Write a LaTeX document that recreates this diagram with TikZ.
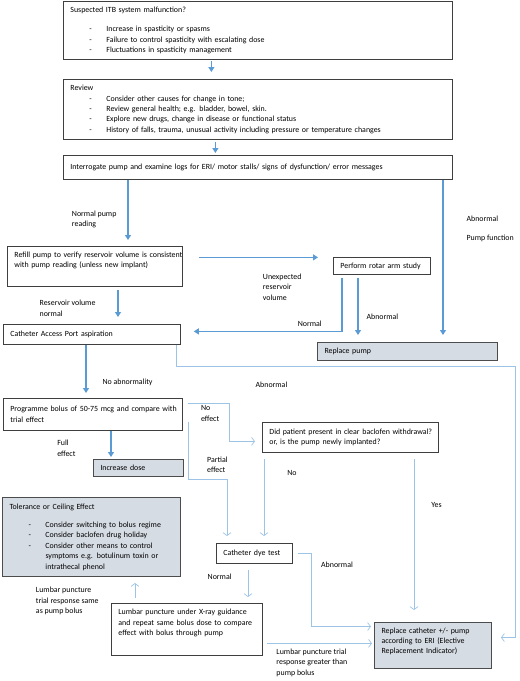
\documentclass[tikz,border=0pt]{standalone}
\usepackage{fontspec}
\setmainfont{Carlito}
\usepackage{tikz}
\usetikzlibrary{arrows.meta,positioning}
\usepackage{xcolor}
\definecolor{arrowblue}{HTML}{5B9BD5}
\definecolor{paleblue}{HTML}{9DC3E6}
\definecolor{boxgrey}{HTML}{D6DCE4}
\definecolor{edgegrey}{HTML}{3F3F3F}
\newcommand{\dashitem}{\hspace*{19pt}\makebox[17pt][l]{-}}
\newcommand{\dashcont}{\hspace*{36pt}}

\begin{document}
\begin{tikzpicture}[
  x=1pt, y=-1pt,
  font=\fontsize{7.9}{10.4}\selectfont,
  line/.style={-{Triangle[length=5pt,width=6pt]},line width=1.1pt,draw=arrowblue},
  faint/.style={-{Straight Barb[length=3pt,width=8pt]},line width=0.7pt,draw=paleblue},
  box/.style={draw=edgegrey,line width=0.8pt,anchor=north west,align=left,
              inner xsep=7pt,inner ysep=3pt},
  shaded/.style={box,fill=boxgrey,draw=black!70,line width=1pt},
  lbl/.style={align=left,inner sep=0pt}
]
\useasboundingbox (0,0) rectangle (520,681);

\node[box,minimum width=389pt,text width=375pt,minimum height=58pt] (suspect) at (63,1)
  {Suspected ITB system malfunction?\\[8.7pt]
   \dashitem Increase in spasticity or spasms\\
   \dashitem Failure to control spasticity with escalating dose\\
   \dashitem Fluctuations in spasticity management};
\node[box,minimum width=389pt,text width=375pt,minimum height=60pt] (review) at (63,79)
  {Review\\
   \dashitem Consider other causes for change in tone;\\
   \dashitem Review general health; e.g. bladder, bowel, skin.\\
   \dashitem Explore new drugs, change in disease or functional status\\
   \dashitem History of falls, trauma, unusual activity including pressure or temperature changes};
\node[box,minimum width=389pt,text width=375pt,minimum height=24pt] (interrog) at (63,155)
  {Interrogate pump and examine logs for ERI/ motor stalls/ signs of dysfunction/ error messages};
\node[box,minimum width=175pt,text width=161pt,text height=8pt,text depth=26pt] (refill) at (7,246)
  {\mbox{Refill pump to verify reservoir volume is consistent}\\with pump reading (unless new implant)};
\node[box,minimum width=97pt,text width=83pt,minimum height=17pt] (rotar) at (333,257)
  {Perform rotar arm study};
\node[shaded,minimum width=180pt,text width=166pt,minimum height=18pt] (pumprep) at (317,342)
  {Replace pump};
\node[box,minimum width=177pt,text width=163pt,minimum height=20pt] (cap) at (3,324)
  {Catheter Access Port aspiration};
\node[box,minimum width=179pt,text width=165pt,minimum height=32pt] (bolus) at (3,398)
  {\mbox{Programme bolus of 50-75 mcg and compare with}\\trial effect};
\node[shaded,minimum width=90pt,text width=76pt,minimum height=17pt] (incr) at (93,459)
  {Increase dose};
\node[box,minimum width=176pt,text width=162pt,minimum height=30pt] (wd) at (262,422)
  {\mbox{Did patient present in clear baclofen withdrawal?}\\or, is the pump newly implanted?};
\node[shaded,minimum width=178pt,text width=164pt,minimum height=79pt] (tol) at (2,497)
  {Tolerance or Ceiling Effect\\[8pt]
   \dashitem Consider switching to bolus regime\\
   \dashitem Consider baclofen drug holiday\\
   \dashitem Consider other means to control\\
   \dashcont symptoms e.g. botulinum toxin or\\
   \dashcont intrathecal phenol};
\node[box,minimum width=76pt,text width=62pt,minimum height=20pt] (dye) at (216,543)
  {Catheter dye test};
\node[box,minimum width=151pt,text width=137pt,text height=8.5pt,text depth=37.5pt] (lp) at (111,603)
  {\mbox{Lumbar puncture under X-ray guidance}\\\mbox{and repeat same bolus dose to compare}\\effect with bolus through pump};
\node[shaded,minimum width=117pt,text width=103pt,text height=7.5pt,text depth=32.5pt] (cathrep) at (374,622)
  {Replace catheter +/- pump\\according to ERI (Elective\\Replacement Indicator)};

% main spine
\draw[line,shorten <=1pt,shorten >=7pt] ([xshift=-46.5pt]suspect.south) -- ([xshift=-46.5pt]review.north);
\draw[line,shorten <=2pt,shorten >=2pt] ([xshift=-42.5pt]review.south) -- ([xshift=-42.5pt]interrog.north);
\draw[line,shorten >=6pt] ([xshift=65pt]interrog.south west)
  -- node[lbl,pos=0.6,left=11pt]{Normal pump\\reading} ([xshift=121pt]refill.north west);
\draw[line,shorten >=7pt] ([xshift=380pt]interrog.south west)
  -- node[lbl,pos=0.3,right=23pt]{Abnormal\\[8.5pt]Pump function} ([xshift=126pt]pumprep.north west);
\draw[line,shorten <=3pt,shorten >=7pt] ([xshift=111pt]refill.south west)
  -- node[lbl,pos=0.58,left=22pt]{Reservoir volume\\normal} ([xshift=115pt]cap.north west);
\draw[line,shorten <=16pt,shorten >=15pt] ([yshift=9pt]refill.east)
  -- node[lbl,pos=0.53,anchor=north west,yshift=-16pt]{Unexpected\\reservoir\\volume}
  ([yshift=9pt]refill.east -| rotar.west);
\draw[line,shorten <=3pt,shorten >=13pt] ([xshift=9pt]rotar.south west)
  |- node[lbl,pos=0.6,above=4pt]{Normal} ([yshift=3pt]cap.east);
\draw[line,shorten <=3pt,shorten >=7pt] ([xshift=25pt]rotar.south west)
  -- node[lbl,pos=0.63,right=8pt]{Abnormal} ([xshift=41pt]pumprep.north west);
\draw[line,shorten >=5pt] ([xshift=83pt]cap.south west)
  -- node[lbl,pos=0.7,right=16pt]{No abnormality} ([xshift=83pt]bolus.north west);
\draw[faint,shorten >=9pt] ([xshift=-4pt]cap.south east) -- ++(0,22)
  -| node[lbl,pos=0.14,below=15pt]{Abnormal} ([xshift=23pt,yshift=8pt]cathrep.east)
  -- ([yshift=8pt]cathrep.east);
\draw[line,shorten >=2pt] ([xshift=108pt]bolus.south west)
  -- node[lbl,pos=0.62,left=35pt]{Full\\effect} ([xshift=18pt]incr.north west);
\draw[faint,shorten <=5pt,shorten >=7pt] ([yshift=11pt]bolus.east)
  -- node[lbl,pos=0.38,anchor=north west,yshift=-2pt]{No\\effect} ++(47,0)
  |- ([yshift=-4pt]wd.west);
\draw[faint,shorten >=7pt] ([xshift=6pt,yshift=9pt]bolus.south east)
  -- node[lbl,pos=0.74,right=18pt]{Partial\\effect} ++(0,58)
  -| ([xshift=11pt]dye.north west);
\draw[faint,shorten <=6pt,shorten >=7pt] ([xshift=2pt]wd.south west)
  -- node[lbl,pos=0.22,right=23pt]{No} ([xshift=48pt]dye.north west);
\draw[faint,shorten <=6pt,shorten >=12pt] ([xshift=152pt]wd.south west)
  -- node[lbl,pos=0.31,right=17pt]{Yes} ([xshift=40pt]cathrep.north west);
\draw[faint,shorten <=6pt,shorten >=6pt] ([xshift=32pt]dye.south west)
  -- node[lbl,pos=0.33,left=16pt]{Normal} ([xshift=137pt]lp.north west);
\draw[faint,shorten <=5pt,shorten >=3pt] (dye.east) -- ++(19,0)
  |- node[lbl,pos=0.08,right=9pt]{Abnormal} ([yshift=19pt]cathrep.west);
\draw[faint,shorten <=5pt,shorten >=6pt] ([xshift=24pt]lp.north west)
  -- node[lbl,pos=0.07,left=36pt]{Lumbar puncture\\trial response same\\as pump bolus} ([xshift=133pt]tol.south west);
\draw[faint,shorten <=4pt,shorten >=2pt] ([yshift=-14pt]lp.east)
  -- node[lbl,pos=0.12,anchor=north west,yshift=-5pt]{Lumbar puncture trial\\response greater than\\pump bolus}
  ([yshift=-14pt]lp.east -| cathrep.west);
\end{tikzpicture}
\end{document}
